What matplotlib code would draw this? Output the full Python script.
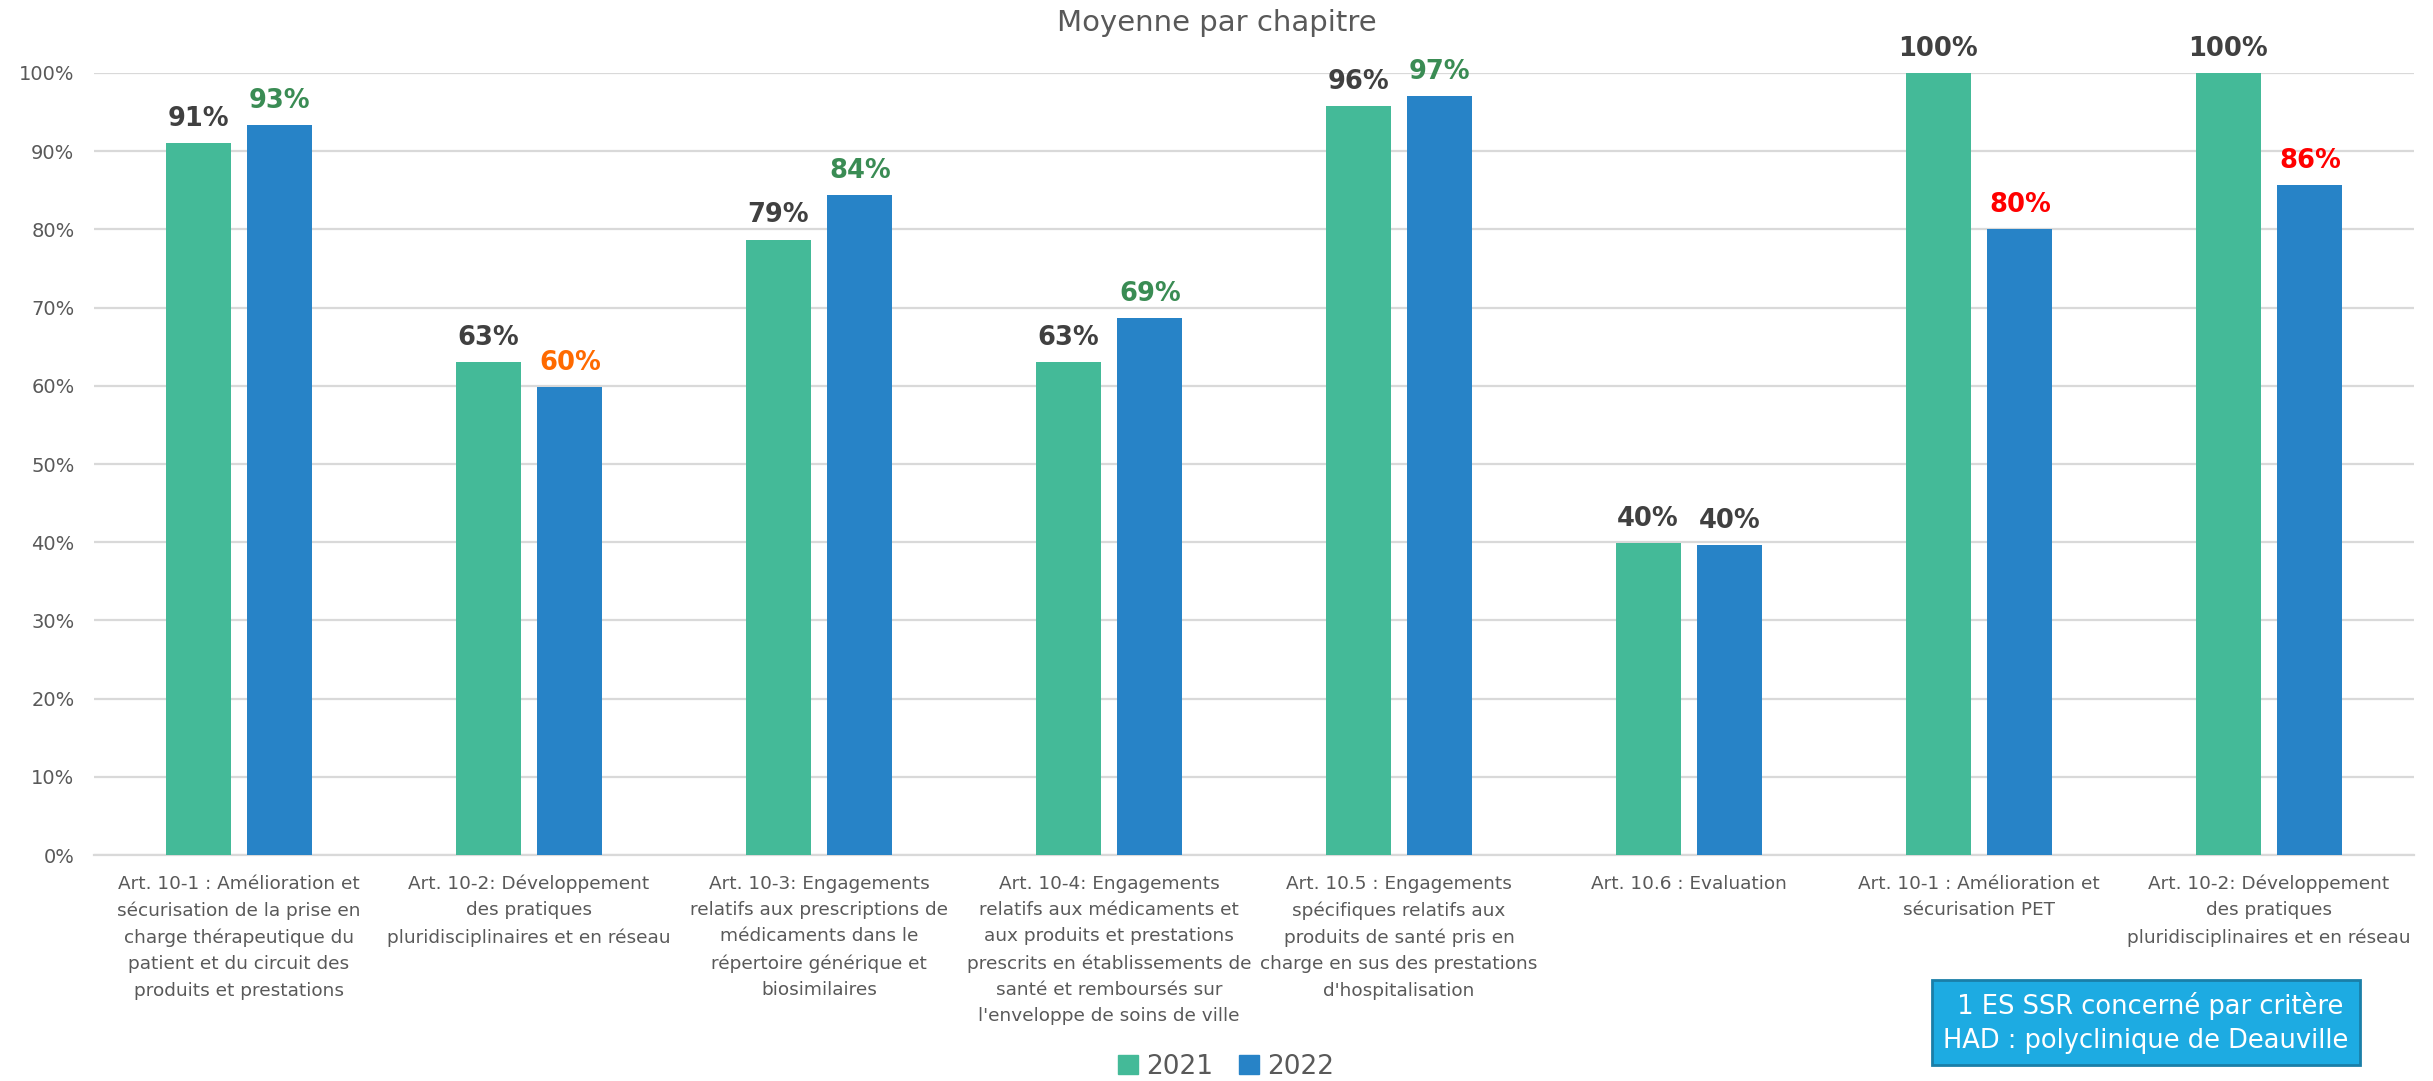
import matplotlib
matplotlib.use("Agg")
import matplotlib.pyplot as plt
import numpy as np
from matplotlib.patches import Patch

categories = [
    "Art. 10-1 : Amélioration et\nsécurisation de la prise en\ncharge thérapeutique du\npatient et du circuit des\nproduits et prestations",
    "Art. 10-2: Développement\ndes pratiques\npluridisciplinaires et en réseau",
    "Art. 10-3: Engagements\nrelatifs aux prescriptions de\nmédicaments dans le\nrépertoire générique et\nbiosimilaires",
    "Art. 10-4: Engagements\nrelatifs aux médicaments et\naux produits et prestations\nprescrits en établissements de\nsanté et remboursés sur\nl'enveloppe de soins de ville",
    "Art. 10.5 : Engagements\nspécifiques relatifs aux\nproduits de santé pris en\ncharge en sus des prestations\nd'hospitalisation",
    "Art. 10.6 : Evaluation",
    "Art. 10-1 : Amélioration et\nsécurisation PET",
    "Art. 10-2: Développement\ndes pratiques\npluridisciplinaires et en réseau",
]
values_2021 = [91.0, 63.0, 78.7, 63.0, 95.8, 39.9, 100.0, 100.0]
values_2022 = [93.3, 59.8, 84.4, 68.7, 97.0, 39.6, 80.0, 85.7]
labels_2021 = ["91%", "63%", "79%", "63%", "96%", "40%", "100%", "100%"]
labels_2022 = ["93%", "60%", "84%", "69%", "97%", "40%", "80%", "86%"]
label_colors_2022 = ["#3A8C54", "#FF6A00", "#3A8C54", "#3A8C54", "#3A8C54", "#404040", "#FF0000", "#FF0000"]
yticks = [0, 10, 20, 30, 40, 50, 60, 70, 80, 90, 100]
series_names = ["2021", "2022"]

c21 = "#44BA98"
c22 = "#2783C7"
gray = "#595959"

plt.rcParams['font.family'] = ['DejaVu Sans']
fig = plt.figure(figsize=(24.33, 10.81), dpi=100)
ax = fig.add_axes([0.0386, 0.209, 0.9536, 0.7235])

x = np.arange(len(categories))
w = 0.224
off = 0.141
ax.bar(x - off, values_2021, w, color=c21, zorder=3)
ax.bar(x + off, values_2022, w, color=c22, zorder=3)

for xi, v, lab in zip(x, values_2021, labels_2021):
    ax.annotate(lab, (xi - off, v), xytext=(0, 8), textcoords="offset points",
                ha="center", va="bottom", fontsize=18.5, fontweight="bold", color="#404040")
for xi, v, lab, col in zip(x, values_2022, labels_2022, label_colors_2022):
    ax.annotate(lab, (xi + off, v), xytext=(0, 8), textcoords="offset points",
                ha="center", va="bottom", fontsize=18.5, fontweight="bold", color=col)

ax.set_xlim(-0.5, len(categories) - 0.5)
ax.set_ylim(0, 100)
ax.set_yticks(yticks)
ax.set_yticklabels([f"{t}%" for t in yticks], fontsize=14, color=gray)
ax.set_xticks(x)
ax.set_xticklabels(categories, fontsize=13.3, color=gray, linespacing=1.6, va="top")
ax.tick_params(axis="both", length=0)
ax.tick_params(axis="x", pad=14)
ax.tick_params(axis="y", pad=14)
ax.grid(axis="y", color="#D9D9D9", linewidth=1.6, zorder=0)
ax.set_axisbelow(True)
for s in ["top", "right", "left"]:
    ax.spines[s].set_visible(False)
ax.spines["bottom"].set_color("#D9D9D9")
ax.spines["bottom"].set_linewidth(1.6)

fig.text(0.5, 0.979, "Moyenne par chapitre", ha="center", va="center", fontsize=21, color=gray)

handles = [Patch(color=c21), Patch(color=c22)]
fig.legend(handles, series_names, loc="center", bbox_to_anchor=(0.504, 0.013), ncol=2,
           frameon=False, fontsize=19, handlelength=0.75, handleheight=0.75,
           handletextpad=0.3, columnspacing=1.0, labelcolor=gray)

fig.text(0.882, 0.054, " 1 ES SSR concerné par critère\nHAD : polyclinique de Deauville",
         ha="center", va="center", fontsize=18.5, color="white", linespacing=1.4,
         bbox=dict(boxstyle="square,pad=0.45", facecolor="#1DABE2", edgecolor="#1A7FA8", linewidth=2))

fig.savefig("out.png", dpi=100)
